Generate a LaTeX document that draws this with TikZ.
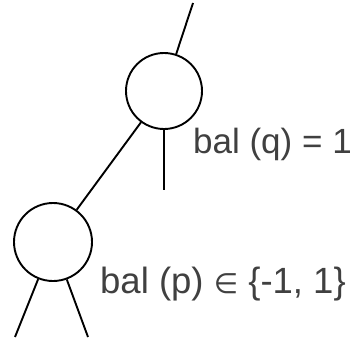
\documentclass[tikz,border=0pt]{standalone}
\usepackage{fontspec}
\setmainfont{Liberation Sans}
\newfontfamily\symfont{DejaVu Sans}
\usepackage{tikz}
\usetikzlibrary{positioning}
\definecolor{labelgray}{RGB}{64,64,64}
\tikzset{
  knot/.style  = {circle, draw, line width=1.9pt, minimum size=76pt, inner sep=0pt},
  edge/.style  = {line width=1.9pt},
  bal/.style   = {anchor=base west, inner sep=0pt, text=labelgray,
                  font=\fontsize{35}{40}\selectfont},
}
\newcommand{\elemof}{{\symfont\fontsize{28}{28}\selectfont ∈}}
\begin{document}
\begin{tikzpicture}[x=1pt,y=-1pt]
 \useasboundingbox (0,0) rectangle (358,337);
 % the two nodes
 \node[knot] (q) at (164,91) {};
 \node[knot, minimum size=78pt] (p) at (53,242) {};
 % free ends
 \coordinate (top) at (193,3);
 \coordinate (qr) at (164,190);
 \coordinate (pl) at (15,337);
 \coordinate (pr) at (88,337);
 \draw[edge] (q) -- (top);
 \draw[edge] (q) -- (p);
 \draw[edge] (q.south) -- (qr);
 \draw[edge] (p) -- (pl);
 \draw[edge] (p) -- (pr);
 % labels
 \node[bal] (balq) at (193,153) {bal (q) = 1};
 \node[bal, font=\fontsize{36.5}{40}\selectfont] (balp) at (100,293)
   {bal (p) \elemof{} \{-1, 1\}};
\end{tikzpicture}
\end{document}
